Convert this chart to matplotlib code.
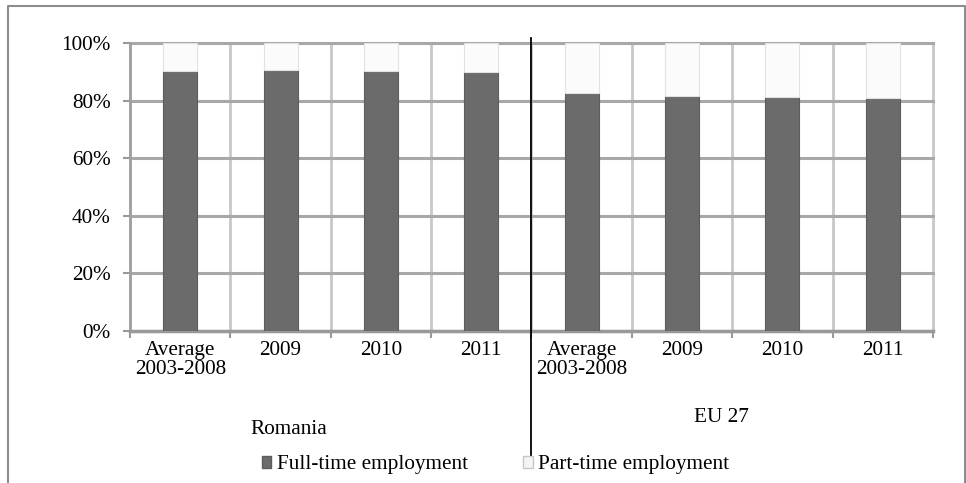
import numpy as np
import matplotlib.pyplot as plt
from matplotlib.lines import Line2D
from matplotlib.patches import Patch

plt.rcParams['font.family'] = ['Liberation Serif', 'DejaVu Serif']

# Share of employment by type (fraction of total)
categories = ["Average\n2003-2008", "2009", "2010", "2011",
              "Average\n2003-2008", "2009", "2010", "2011"]
groups = ["Romania", "EU 27"]
full_time = [0.902, 0.907, 0.904, 0.899, 0.825, 0.815, 0.812, 0.808]
part_time = [1 - v for v in full_time]
y_ticks = [0, 0.2, 0.4, 0.6, 0.8, 1.0]

fig = plt.figure(figsize=(9.66, 4.83), dpi=100)
ax = fig.add_axes([0.1346, 0.3147, 0.8312, 0.5963])

x = np.arange(len(categories))
w = 0.34
ax.bar(x, full_time, w, color='#6b6b6b', edgecolor='#5c5c5c', linewidth=0.8,
       label='Full-time employment', zorder=3)
ax.bar(x, part_time, w, bottom=full_time, color='#fbfbfb', edgecolor='#e2e2e2',
       linewidth=0.8, label='Part-time employment', zorder=3)

ax.set_xlim(-0.5, len(categories) - 0.5)
ax.set_ylim(0, 1)
ax.set_yticks(y_ticks)
ax.set_yticklabels([f"{int(round(t * 100))}%" for t in y_ticks])
ax.set_xticks(x)
ax.set_xticklabels(categories, linespacing=1.02)
ax.set_xticks(np.arange(-0.5, len(categories)), minor=True)

ax.tick_params(axis='x', which='major', length=0, pad=7, labelsize=15.3)
ax.tick_params(axis='x', which='minor', length=5, width=1.5, color='#999999')
ax.tick_params(axis='y', length=5, width=1.5, color='#999999', pad=9, labelsize=15.3)

ax.grid(axis='y', which='major', color='#a8a8a8', linewidth=2.2, zorder=0)
ax.grid(axis='x', which='minor', color='#c8c8c8', linewidth=2.0, zorder=0)
ax.set_axisbelow(True)
for t in ax.yaxis.get_major_ticks() + ax.xaxis.get_minor_ticks():
    t.gridline.set_clip_on(False)

for s in ['top', 'right']:
    ax.spines[s].set_visible(False)
ax.spines['left'].set_color('#a0a0a0')
ax.spines['left'].set_linewidth(2)
ax.spines['bottom'].set_color('#999999')
ax.spines['bottom'].set_linewidth(2.5)

# divider between the two country groups
ax.plot([3.5, 3.5], [1.017, -0.441], color='black', linewidth=1.3,
        transform=ax.get_xaxis_transform(), clip_on=False, zorder=5)

# group names under the tick labels
fig.text(289 / 966, 1 - 430 / 483, groups[0], ha='center', va='center', fontsize=15.3)
fig.text(721 / 966, 1 - 418 / 483, groups[1], ha='center', va='center', fontsize=15.3)

handles = [Patch(facecolor='#6b6b6b', edgecolor='#5c5c5c'),
           Patch(facecolor='#f4f4f4', edgecolor='#c8c8c8')]
fig.legend(handles, ['Full-time employment', 'Part-time employment'],
           loc='center', bbox_to_anchor=(0.513, 1 - 465 / 483), ncol=2,
           frameon=False, fontsize=15.3, handlelength=0.45, handleheight=0.5,
           handletextpad=0.25, columnspacing=2.6)

# outer chart frame (open at the bottom)
fx0, fx1, fy1 = 8 / 966, 965 / 966, 1 - 6 / 483
fig.add_artist(Line2D([fx0, fx0, fx1, fx1], [0, fy1, fy1, 0],
                      transform=fig.transFigure, color='#8c8c8c', linewidth=1.5))

fig.savefig('out.png', dpi=100)
